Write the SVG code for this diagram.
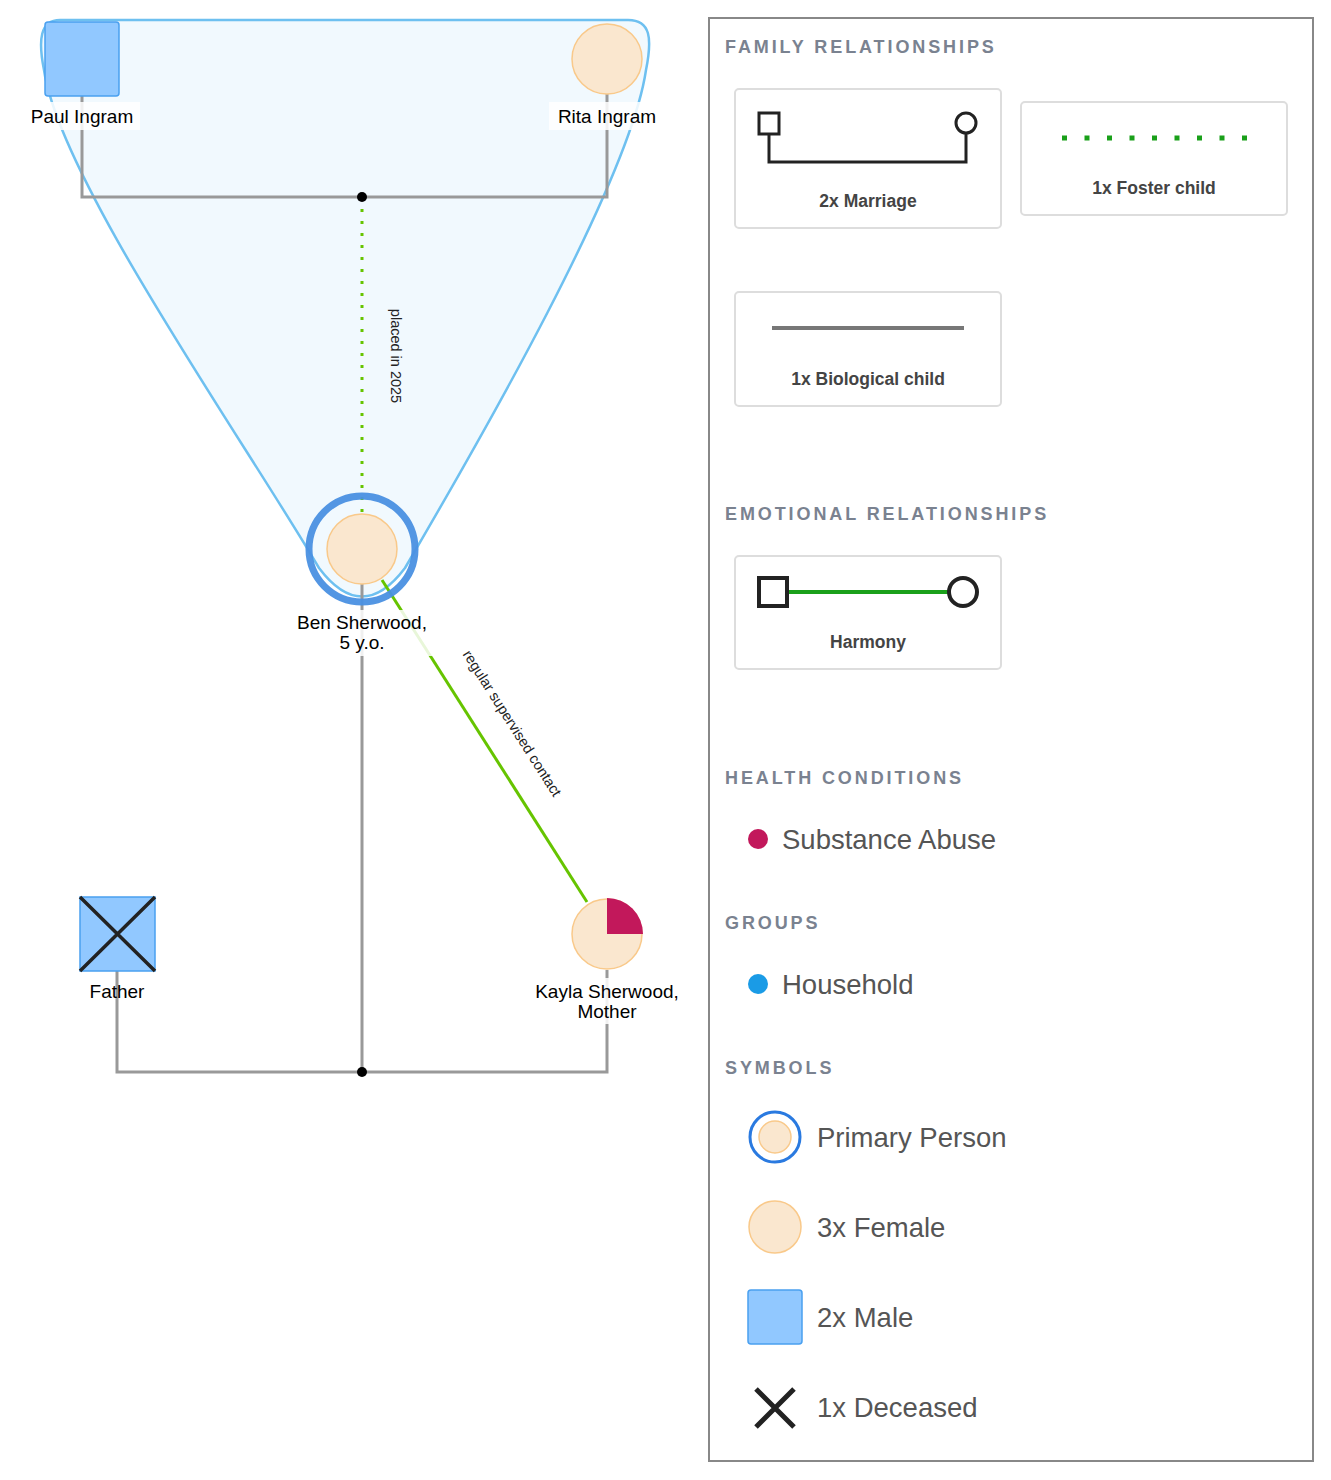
<svg xmlns="http://www.w3.org/2000/svg" width="1331" height="1480" viewBox="0 0 1331 1480">
<style>
.lbl{font-family:"Liberation Sans",Arial,sans-serif;font-size:19px;fill:#000;text-anchor:middle}
.sm{font-family:"Liberation Sans",Arial,sans-serif;font-size:14.5px;fill:#222;text-anchor:middle}
.hd{font-family:"Liberation Sans",Arial,sans-serif;font-size:18px;font-weight:bold;fill:#7a8290;letter-spacing:2.9px}
.card{fill:#fff;stroke:#ddd;stroke-width:2}
.ct{font-family:"Liberation Sans",Arial,sans-serif;font-size:17.5px;font-weight:bold;fill:#444;text-anchor:middle}
.it{font-family:"Liberation Sans",Arial,sans-serif;font-size:27.5px;fill:#555}
.fem{fill:#fae7cf;stroke:#f9c98a;stroke-width:1.5}
.male{fill:#91c8ff;stroke:#4aa0f0;stroke-width:1.5}
.rel{stroke:#999;stroke-width:3;fill:none}
</style>
<g id="household">
<path d="M60,20 H625 C652,18 652,40 646,70 C630,180 480,440 405,568 Q362,625 319,568 C244,440 60,180 44,70 C38,40 40,20 60,20 Z" fill="#f1f9fe" stroke="#6ec0f0" stroke-width="2.5"/>
</g>
<g id="connectors">
<polyline class="rel" points="82,96 82,197 607,197 607,94"/>
<line x1="362" y1="197" x2="362" y2="514" stroke="#66c400" stroke-width="3" stroke-dasharray="3,9"/>
<circle cx="362" cy="197" r="5" fill="#000"/>
<text class="sm" transform="translate(391,356) rotate(90)">placed in 2025</text>
<polyline class="rel" points="117,971 117,1072 607,1072 607,970"/>
<line x1="362" y1="1072" x2="362" y2="584" stroke="#999" stroke-width="3"/>
<circle cx="362" cy="1072" r="5" fill="#000"/>
<line x1="382" y1="580" x2="587" y2="902" stroke="#66c400" stroke-width="3"/>
<text class="sm" transform="translate(508,726) rotate(57.5)">regular supervised contact</text>
</g>
<g id="paul">
<rect x="45" y="22" width="74" height="74" rx="3" class="male"/>
<rect x="24" y="102" width="116" height="28" fill="#fff" opacity="0.85"/>
<text class="lbl" x="82" y="123">Paul Ingram</text>
</g>
<g id="rita">
<circle cx="607" cy="59" r="35" class="fem"/>
<rect x="549" y="102" width="116" height="28" fill="#fff" opacity="0.85"/>
<text class="lbl" x="607" y="123">Rita Ingram</text>
</g>
<g id="ben">
<circle cx="362" cy="549" r="35" class="fem"/>
<circle cx="362" cy="549" r="53" fill="none" stroke="#4a90e2" stroke-width="7" opacity="0.95"/>
<rect x="290" y="610" width="144" height="46" fill="#fff" opacity="0.85"/>
<text class="lbl" x="362" y="629">Ben Sherwood,</text>
<text class="lbl" x="362" y="649">5 y.o.</text>
</g>
<g id="kayla">
<circle cx="607" cy="934" r="35" class="fem"/>
<path d="M607,934 V898 A36,36 0 0 1 643,934 Z" fill="#c2185b"/>
<rect x="527" y="978" width="160" height="46" fill="#fff" opacity="0.85"/>
<text class="lbl" x="607" y="998">Kayla Sherwood,</text>
<text class="lbl" x="607" y="1018">Mother</text>
</g>
<g id="father">
<rect x="80" y="897" width="75" height="74" class="male"/>
<path d="M80,897 L155,971 M155,897 L80,971" stroke="#222" stroke-width="3.5"/>
<text class="lbl" x="117" y="998">Father</text>
</g>
<g id="legend">
<rect x="709" y="18" width="604" height="1443" fill="#fff" stroke="#888" stroke-width="2"/>
<text class="hd" x="725" y="53">FAMILY RELATIONSHIPS</text>
<rect class="card" x="735" y="89" width="266" height="139" rx="4"/>
<path d="M769,134 V162 H966 V134" stroke="#222" stroke-width="3" fill="none"/>
<rect x="759" y="113" width="20" height="21" fill="#fff" stroke="#222" stroke-width="3"/>
<circle cx="966" cy="123" r="10" fill="#fff" stroke="#222" stroke-width="3"/>
<text class="ct" x="868" y="207">2x Marriage</text>
<rect class="card" x="1021" y="102" width="266" height="113" rx="4"/>
<line x1="1062" y1="138" x2="1248" y2="138" stroke="#1aa01a" stroke-width="5" stroke-dasharray="5,17.5"/>
<text class="ct" x="1154" y="194">1x Foster child</text>
<rect class="card" x="735" y="292" width="266" height="114" rx="4"/>
<line x1="772" y1="328" x2="964" y2="328" stroke="#777" stroke-width="4"/>
<text class="ct" x="868" y="385">1x Biological child</text>
<text class="hd" x="725" y="520">EMOTIONAL RELATIONSHIPS</text>
<rect class="card" x="735" y="556" width="266" height="113" rx="4"/>
<line x1="787" y1="592" x2="950" y2="592" stroke="#1aa01a" stroke-width="4"/>
<rect x="759" y="578" width="28" height="28" fill="#fff" stroke="#222" stroke-width="4"/>
<circle cx="963" cy="592" r="14" fill="#fff" stroke="#222" stroke-width="4"/>
<text class="ct" x="868" y="648">Harmony</text>
<text class="hd" x="725" y="784">HEALTH CONDITIONS</text>
<circle cx="758" cy="839" r="10" fill="#c2185b"/>
<text class="it" x="782" y="849">Substance Abuse</text>
<text class="hd" x="725" y="929">GROUPS</text>
<circle cx="758" cy="984" r="10" fill="#1a9be6"/>
<text class="it" x="782" y="994">Household</text>
<text class="hd" x="725" y="1074">SYMBOLS</text>
<circle cx="775" cy="1137" r="16" class="fem"/>
<circle cx="775" cy="1137" r="25" fill="none" stroke="#2a7ae0" stroke-width="3"/>
<text class="it" x="817" y="1147">Primary Person</text>
<circle cx="775" cy="1227" r="26" class="fem"/>
<text class="it" x="817" y="1237">3x Female</text>
<rect x="748" y="1290" width="54" height="54" rx="3" class="male"/>
<text class="it" x="817" y="1327">2x Male</text>
<path d="M756,1389 L794,1427 M794,1389 L756,1427" stroke="#222" stroke-width="5"/>
<text class="it" x="817" y="1417">1x Deceased</text>
</g>
</svg>
